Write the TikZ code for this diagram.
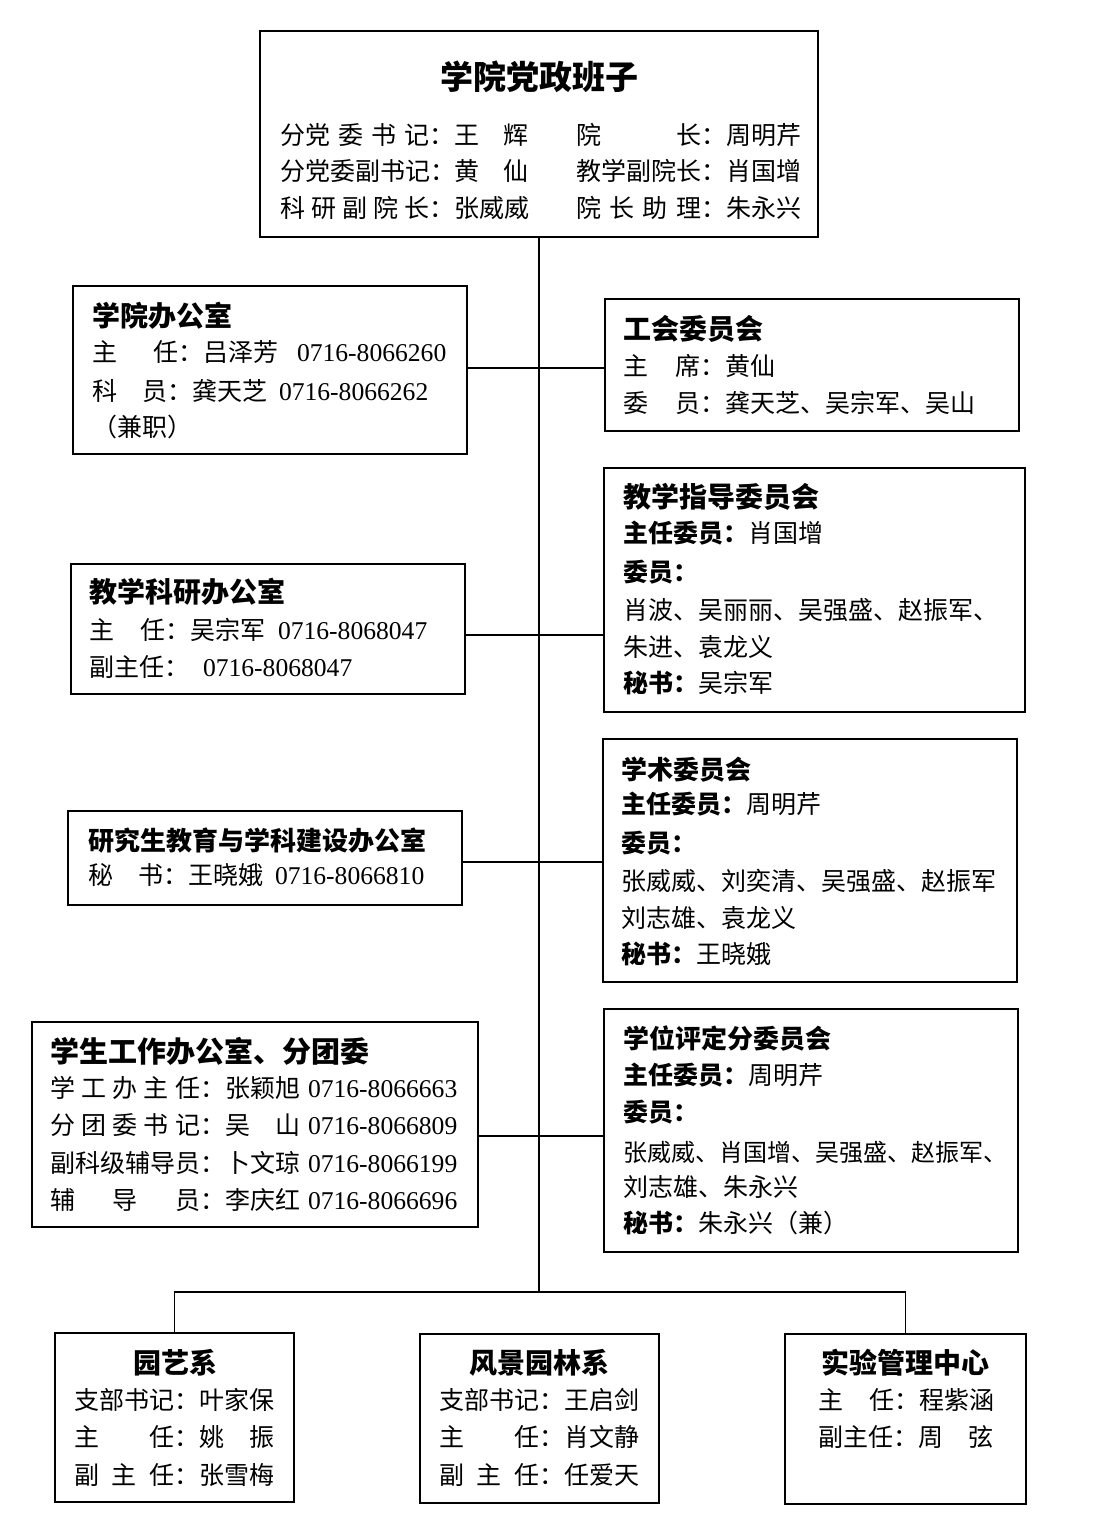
\documentclass[tikz,border=0pt]{standalone}
\usepackage{fontspec}
\setmainfont{Liberation Serif}
\newfontfamily\cn{Noto Sans CJK SC}
\newcommand\dg[1]{{\rmfamily\fontsize{25.6}{30}\selectfont #1}}
\tikzset{
  box/.style={draw, line width=2.2pt, inner sep=0pt, outer sep=0pt, anchor=north west, fill=white},
  link/.style={line width=1.8pt},
  tx/.style={anchor=base west, inner sep=0pt, outer sep=0pt, font=\cn\fontsize{25}{30}\selectfont},
  hd/.style={anchor=base west, inner sep=0pt, outer sep=0pt, font=\cn\bfseries\fontsize{28}{34}\selectfont},
  hdc/.style={anchor=base, inner sep=0pt, outer sep=0pt, font=\cn\bfseries\fontsize{28}{34}\selectfont},
}
\begin{document}
\begin{tikzpicture}[x=1pt,y=-1pt]
\useasboundingbox[fill=white] (0,0) rectangle (1099,1534);

% connectors (drawn first)
\coordinate (s1) at (539,368);
\coordinate (s2) at (539,635);
\coordinate (s3) at (539,862);
\coordinate (s4) at (539,1136);
\coordinate (bus) at (539,1292);

% boxes
\node[box, minimum width=558pt, minimum height=206pt] (top) at (260,31) {};
\node[box, minimum width=394pt, minimum height=168pt] (office) at (73,286) {};
\node[box, minimum width=414pt, minimum height=132pt] (union) at (605,299) {};
\node[box, minimum width=421pt, minimum height=244pt] (jxzd) at (604,468) {};
\node[box, minimum width=394pt, minimum height=130pt] (jxky) at (71,564) {};
\node[box, minimum width=394pt, minimum height=94pt] (yjs) at (68,811) {};
\node[box, minimum width=414pt, minimum height=243pt] (xs) at (603,739) {};
\node[box, minimum width=446pt, minimum height=205pt] (xsgz) at (32,1022) {};
\node[box, minimum width=414pt, minimum height=243pt] (xw) at (604,1009) {};
\node[box, minimum width=239pt, minimum height=169pt] (yy) at (55,1333) {};
\node[box, minimum width=239pt, minimum height=169pt] (fj) at (420,1334) {};
\node[box, minimum width=241pt, minimum height=170pt] (sy) at (785,1334) {};

\draw[link] (top.south) -- (bus);
\draw[link] (office.east |- s1) -- (union.west |- s1);
\draw[link] (jxky.east |- s2) -- (jxzd.west |- s2);
\draw[link] (yjs.east |- s3) -- (xs.west |- s3);
\draw[link] (xsgz.east |- s4) -- (xw.west |- s4);
\draw[link] (yy.north) -- (yy.north |- bus) -- (sy.north |- bus) -- (sy.north);

% top box
\node[anchor=base, inner sep=0pt, font=\cn\bfseries\fontsize{33}{40}\selectfont] (topT) at (539,89.5) {学院党政班子};
\node[tx] (t1) at (280,144.5) {\makebox[174pt][s]{分党\hfill 委\hfill 书\hfill 记：}\makebox[74pt][s]{王\hfill 辉}};
\node[tx] (t2) at (280,180.5) {\makebox[174pt][s]{分党委副书记：}\makebox[74pt][s]{黄\hfill 仙}};
\node[tx] (t3) at (280,217.5) {\makebox[174pt][s]{科\hfill 研\hfill 副\hfill 院\hfill 长：}张威威};
\node[tx] (t4) at (576,144.5) {\makebox[150pt][s]{院\hfill 长：}周明芹};
\node[tx] (t5) at (576,180.5) {\makebox[150pt][s]{教学副院长：}肖国增};
\node[tx] (t6) at (576,217.5) {\makebox[150pt][s]{院\hfill 长\hfill 助\hfill 理：}朱永兴};

% office
\node[hd] (oT) at (92,326.5) {学院办公室};
\node[tx] (o1) at (92,361) {\makebox[111pt][s]{主\hfill 任：}吕泽芳\hspace{19pt}\dg{0716-8066260}};
\node[tx] (o2) at (92,400) {\makebox[100pt][s]{科\hfill 员：}龚天芝\hspace{12pt}\dg{0716-8066262}};
\node[tx] (o3) at (92,436) {（兼职）};

% union
\node[hd] (uT) at (623,339.5) {工会委员会};
\node[tx] (u1) at (623,375) {\makebox[102pt][s]{主\hfill 席：}黄仙};
\node[tx] (u2) at (623,412) {\makebox[102pt][s]{委\hfill 员：}龚天芝、吴宗军、吴山};

% jxzd
\node[hd] (zT) at (623,507.5) {教学指导委员会};
\node[tx] (z1) at (623,542) {{\bfseries 主任委员：}肖国增};
\node[tx] (z2) at (623,581) {{\bfseries 委员：}};
\node[tx] (z3) at (623,619) {肖波、吴丽丽、吴强盛、赵振军、};
\node[tx] (z4) at (623,656) {朱进、袁龙义};
\node[tx] (z5) at (623,692) {{\bfseries 秘书：}吴宗军};

% jxky
\node[hd] (kT) at (89,602.5) {教学科研办公室};
\node[tx] (k1) at (89,639) {\makebox[101pt][s]{主\hfill 任：}吴宗军\hspace{13pt}\dg{0716-8068047}};
\node[tx] (k2) at (89,676) {副主任：\hspace{14pt}\dg{0716-8068047}};

% yjs
\node[hd, font=\cn\bfseries\fontsize{26}{32}\selectfont] (yT) at (88,850) {研究生教育与学科建设办公室};
\node[tx] (y1) at (88,884) {\makebox[100pt][s]{秘\hfill 书：}王晓娥\hspace{12pt}\dg{0716-8066810}};

% xs
\node[hd, font=\cn\bfseries\fontsize{26}{32}\selectfont] (xT) at (621,779) {学术委员会};
\node[tx] (x1) at (621,813) {{\bfseries 主任委员：}周明芹};
\node[tx] (x2) at (621,852) {{\bfseries 委员：}};
\node[tx] (x3) at (621,890) {张威威、刘奕清、吴强盛、赵振军};
\node[tx] (x4) at (621,927) {刘志雄、袁龙义};
\node[tx] (x5) at (621,963) {{\bfseries 秘书：}王晓娥};

% xsgz
\node[hd, font=\cn\bfseries\fontsize{29}{35}\selectfont] (gT) at (50,1062) {学生工作办公室、分团委};
\node[tx] (g1) at (50,1097) {\makebox[175pt][s]{学\hfill 工\hfill 办\hfill 主\hfill 任：}张颖旭\hspace{8pt}\dg{0716-8066663}};
\node[tx] (g2) at (50,1134) {\makebox[175pt][s]{分\hfill 团\hfill 委\hfill 书\hfill 记：}\makebox[75pt][s]{吴\hfill 山}\hspace{8pt}\dg{0716-8066809}};
\node[tx] (g3) at (50,1172) {\makebox[175pt][s]{副科级辅导员：}卜文琼\hspace{8pt}\dg{0716-8066199}};
\node[tx] (g4) at (50,1209) {\makebox[175pt][s]{辅\hfill 导\hfill 员：}李庆红\hspace{8pt}\dg{0716-8066696}};

% xw
\node[hd, font=\cn\bfseries\fontsize{26}{32}\selectfont] (wT) at (623,1048) {学位评定分委员会};
\node[tx] (w1) at (623,1084) {{\bfseries 主任委员：}周明芹};
\node[tx] (w2) at (623,1121) {{\bfseries 委员：}};
\node[tx, font=\cn\fontsize{24}{30}\selectfont] (w3) at (623,1161) {张威威、肖国增、吴强盛、赵振军、};
\node[tx] (w4) at (623,1196) {刘志雄、朱永兴};
\node[tx] (w5) at (623,1232) {{\bfseries 秘书：}朱永兴（兼）};

% bottom
\node[hdc] (yyT) at (175,1373.5) {园艺系};
\node[tx] (yy1) at (74,1409) {支部书记：叶家保};
\node[tx] (yy2) at (74,1446) {\makebox[125pt][s]{主\hfill 任：}\makebox[75pt][s]{姚\hfill 振}};
\node[tx] (yy3) at (74,1484) {\makebox[125pt][s]{副\hfill 主\hfill 任：}张雪梅};

\node[hdc] (fjT) at (539,1373.5) {风景园林系};
\node[tx] (fj1) at (439,1409) {支部书记：王启剑};
\node[tx] (fj2) at (439,1446) {\makebox[125pt][s]{主\hfill 任：}肖文静};
\node[tx] (fj3) at (439,1484) {\makebox[125pt][s]{副\hfill 主\hfill 任：}任爱天};

\node[hdc] (syT) at (905,1373.5) {实验管理中心};
\node[tx] (sy1) at (818,1409) {\makebox[101pt][s]{主\hfill 任：}程紫涵};
\node[tx] (sy2) at (818,1446) {副主任：\makebox[75pt][s]{周\hfill 弦}};
\end{tikzpicture}
\end{document}
